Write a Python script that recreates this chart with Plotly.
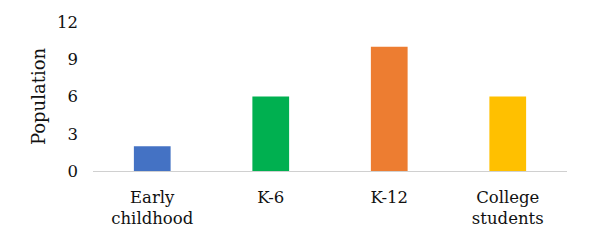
import plotly.graph_objects as go

categories = ["Early<br>childhood", "K-6", "K-12", "College<br>students"]
values = [2, 6, 10, 6]
colors = ["#4472C4", "#00B050", "#ED7D31", "#FFC000"]
y_ticks = [0, 3, 6, 9, 12]

font = dict(family="DejaVu Serif", size=16.5, color="#111111")
title_font = dict(family="DejaVu Serif", size=18, color="#111111")

fig = go.Figure(go.Bar(x=categories, y=values, marker=dict(color=colors, line=dict(width=0))))
# page body has an 8px margin, so the plot area is offset accordingly
fig.update_layout(
    width=582, height=235,
    margin=dict(l=85, r=23, t=14, b=72),
    paper_bgcolor="white", plot_bgcolor="white",
    bargap=0.69, showlegend=False, font=font,
)
fig.update_yaxes(range=[0, 12], tickvals=y_ticks, showgrid=False, zeroline=False,
                 showline=False, ticks="", ticklabelstandoff=14, automargin=False,
                 title=dict(text="Population", standoff=6, font=title_font))
fig.update_xaxes(showline=True, linecolor="#D0D0D0", linewidth=1, ticks="",
                 showgrid=False, ticklabelstandoff=11, automargin=False)
fig.write_html("out.html")
